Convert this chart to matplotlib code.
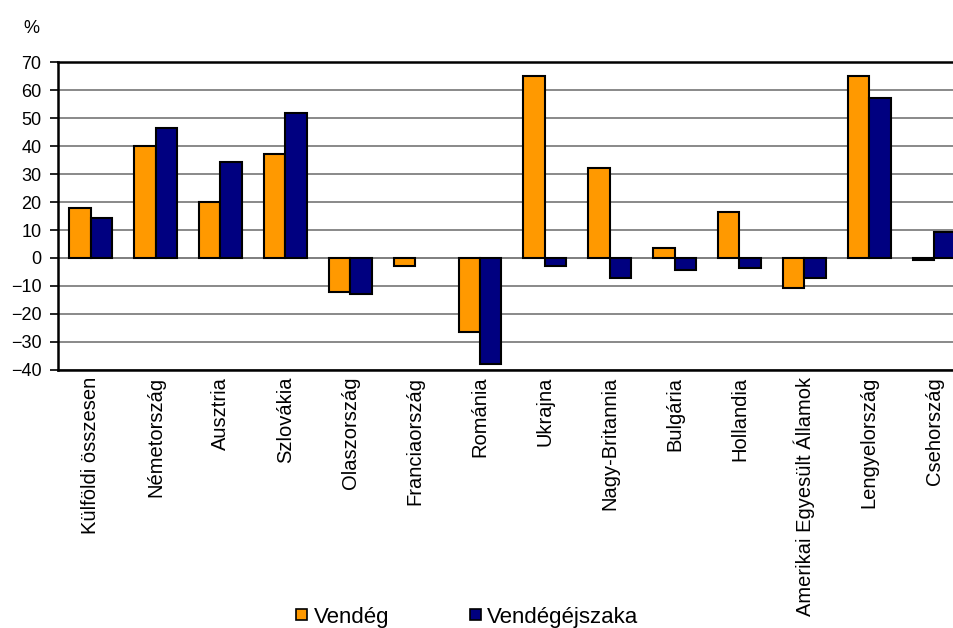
import numpy as np
import matplotlib.pyplot as plt
from matplotlib.patches import Patch

plt.rcParams['font.family'] = ['Liberation Sans', 'DejaVu Sans']

countries = [
    'Külföldi összesen', 'Németország', 'Ausztria', 'Szlovákia',
    'Olaszország', 'Franciaország', 'Románia', 'Ukrajna',
    'Nagy-Britannia', 'Bulgária', 'Hollandia',
    'Amerikai Egyesült Államok', 'Lengyelország', 'Csehország',
]
vendeg = [17.7, 40.0, 20.0, 37.1, -12.1, -2.7, -26.3, 65.0,
          32.0, 3.5, 16.4, -10.6, 65.0, -0.6]
vendegejszaka = [14.2, 46.4, 34.3, 52.0, -12.9, 0.0, -37.9, -2.9,
                 -7.1, -4.3, -3.6, -7.1, 57.1, 9.2]

orange = '#ff9900'
navy = '#000080'

fig = plt.figure(figsize=(9.54, 6.28), dpi=100)
# plot area runs a bit past the right edge, as in the original
ax = fig.add_axes([0.0611, 0.411, 0.952, 0.490])

x = np.arange(len(countries))
w = 0.33
ax.bar(x - w / 2, vendeg, w, color=orange, edgecolor='black', linewidth=1.5, zorder=3)
bars2 = ax.bar(x + w / 2, vendegejszaka, w, color=navy, edgecolor='black', linewidth=1.5, zorder=3)
# Franciaország has no Vendégéjszaka bar
bars2[5].set_visible(False)

ax.set_xlim(-0.5, len(countries) - 0.5)
ax.set_ylim(-40, 70)
ax.set_yticks(range(-40, 71, 10))
ax.yaxis.grid(True, color='#808080', linewidth=1.3, zorder=0)
ax.axhline(0, color='#808080', linewidth=1.3, zorder=1)

ax.set_xticks(x)
ax.set_xticklabels(countries, rotation=90, fontsize=14.5, va='top', ha='center')
ax.tick_params(axis='x', length=0, pad=5)
ax.tick_params(axis='y', length=6, width=1.2, labelsize=13, pad=6)

for side in ['left', 'top', 'bottom']:
    ax.spines[side].set_linewidth(1.8)
ax.spines['right'].set_visible(False)

fig.text(0.024, 0.955, '%', fontsize=13, ha='left', va='center')

handles = [Patch(facecolor=orange, edgecolor='black', linewidth=1.2),
           Patch(facecolor=navy, edgecolor='black', linewidth=1.2)]
fig.legend(handles, ['Vendég', 'Vendégéjszaka'], loc='center',
           bbox_to_anchor=(0.49, 0.0175), ncol=2, frameon=False,
           fontsize=16, handlelength=0.5, handleheight=0.35,
           handletextpad=0.3, columnspacing=3.6, borderpad=0)

fig.savefig('out.png', dpi=100)
